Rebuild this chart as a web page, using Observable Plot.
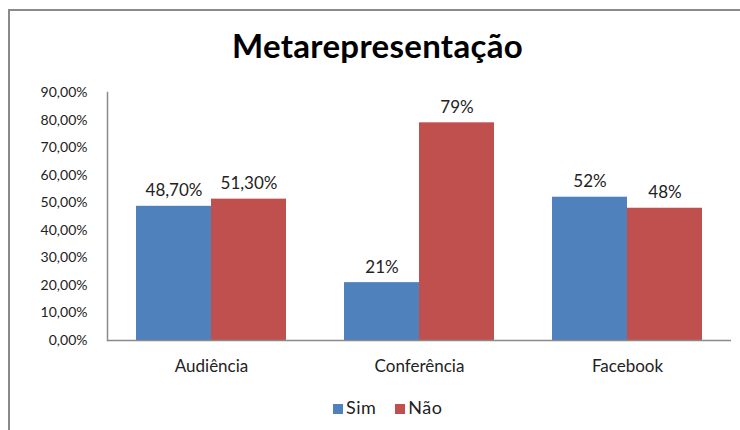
<!DOCTYPE html>
<html><head><meta charset="utf-8">
<script src="https://cdn.jsdelivr.net/npm/d3@7"></script>
<script src="https://cdn.jsdelivr.net/npm/@observablehq/plot@0.6"></script>
<style>
body{margin:0;background:#fff;font-family:Lato,"Noto Sans",sans-serif;}
#wrap{position:relative;width:740px;height:430px;overflow:hidden;}
#frame{position:absolute;left:8px;top:9px;width:800px;height:500px;border-left:2px solid #8a8a8a;border-top:2px solid #8a8a8a;}
#title{position:absolute;left:0;width:755px;top:25px;text-align:center;font-size:33px;font-weight:bold;color:#000;letter-spacing:0.3px;}
#chart{position:absolute;left:0;top:80px;}
#legend{position:absolute;left:333px;top:396px;font-size:18px;color:#222;letter-spacing:0.5px;white-space:nowrap;}
#legend span.sw{display:inline-block;width:10px;height:10px;margin-right:3px;vertical-align:0px;}
#legend span.it{margin-right:19px;}
</style></head>
<body>
<div id="wrap">
<div id="frame"></div>
<div id="title">Metarepresentação</div>
<div id="chart"></div>
<div id="legend"></div>
</div>
<script>
const categories = ["Audiência", "Conferência", "Facebook"];
const series = ["Sim", "Não"];
const simValues = [48.7, 21, 52];
const naoValues = [51.3, 79, 48];
const simLabels = ["48,70%", "21%", "52%"];
const naoLabels = ["51,30%", "79%", "48%"];
const colors = ["#4F81BD", "#C0504D"];
const yTicks = [0, 10, 20, 30, 40, 50, 60, 70, 80, 90];

const data = [];
categories.forEach((c, i) => {
  data.push({category: c, series: "Sim", value: simValues[i], label: simLabels[i]});
  data.push({category: c, series: "Não", value: naoValues[i], label: naoLabels[i]});
});

const fmt = d => d.toFixed(2).replace(".", ",") + "%";

const chart = Plot.plot({
  width: 740,
  height: 300,
  marginTop: 12,
  marginBottom: 40,
  marginLeft: 106,
  marginRight: 8,
  style: {fontFamily: "Lato, 'Noto Sans', sans-serif", fontSize: "14px", color: "#222", background: "transparent"},
  fx: {domain: categories, padding: 0, label: null},
  x: {domain: series, paddingInner: 0, paddingOuter: 0.375, axis: null},
  y: {domain: [0, 90], ticks: yTicks, label: null},
  color: {domain: series, range: colors},
  marks: [
    Plot.axisY({ticks: yTicks, tickFormat: fmt, tickSize: 0, tickPadding: 20, label: null, fontSize: 14}),
    Plot.axisFx({anchor: "bottom", tickSize: 0, tickPadding: 19, label: null, fontSize: 17, style: {letterSpacing: "2px"}}),
    Plot.barY(data, {fx: "category", x: "series", y: "value", fill: "series"}),
    Plot.text(data, {fx: "category", x: "series", y: "value", text: "label", dy: -10, lineAnchor: "bottom", fontSize: 17, fill: "#222", style: {letterSpacing: "0.6px"}}),
    Plot.ruleY([0], {stroke: "#8a8a8a", strokeWidth: 1.5}),
    Plot.frame({anchor: "left", facetAnchor: "left", stroke: "#8a8a8a", strokeWidth: 1.5})
  ]
});
document.getElementById("chart").appendChild(chart);

const legend = document.getElementById("legend");
series.forEach((s, i) => {
  const it = document.createElement("span");
  it.className = "it";
  const sw = document.createElement("span");
  sw.className = "sw";
  sw.style.background = colors[i];
  it.appendChild(sw);
  it.appendChild(document.createTextNode(s));
  legend.appendChild(it);
});
</script>
</body></html>
